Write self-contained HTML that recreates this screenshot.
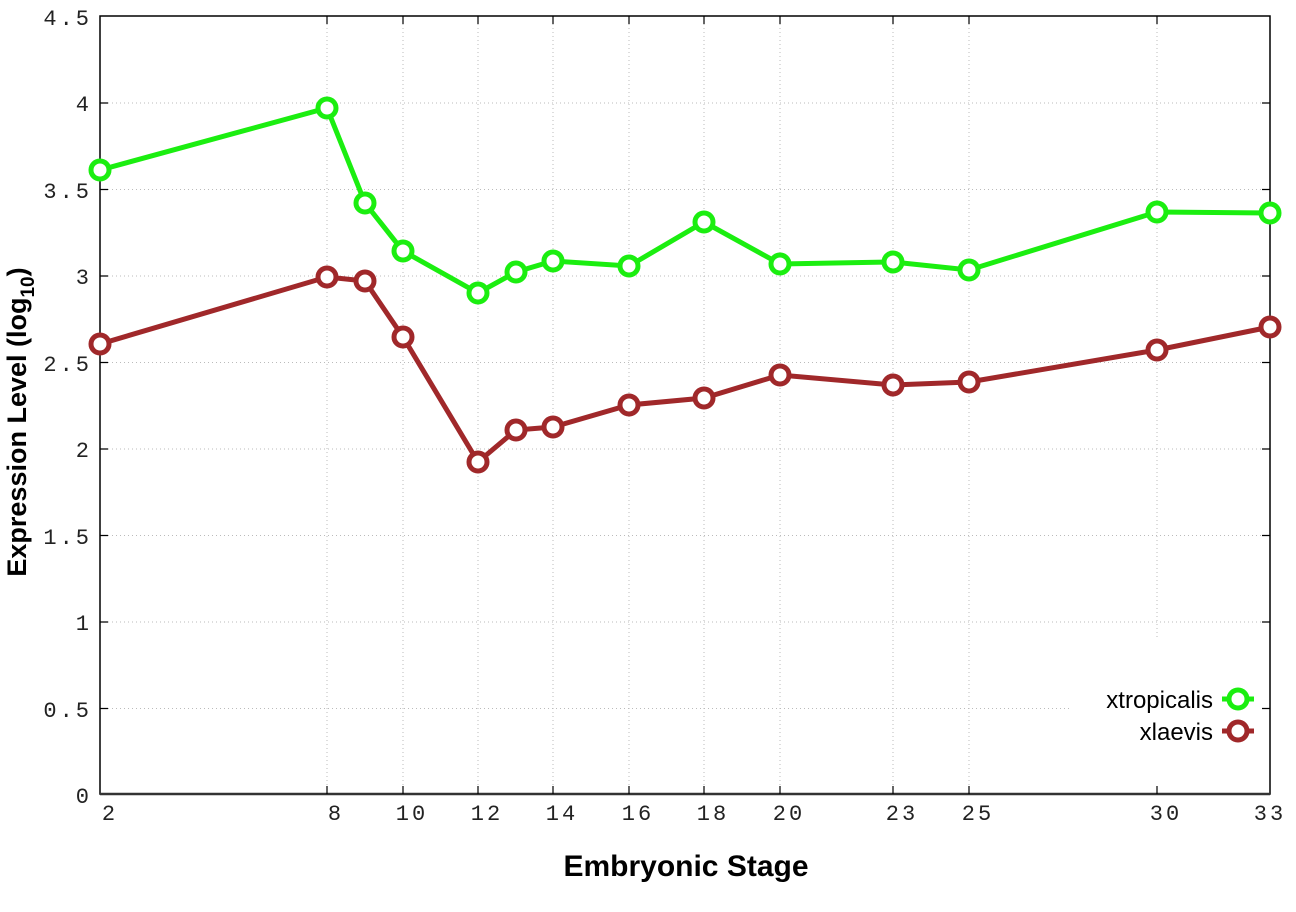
<!DOCTYPE html>
<html><head><style>body{margin:0;background:#fff}</style></head><body>
<svg width="1296" height="907" xmlns="http://www.w3.org/2000/svg" font-family="Liberation Mono, monospace">
<rect width="1296" height="907" fill="#fff"/>
<g stroke="#bbb" stroke-dasharray="1,3" stroke-width="1">
<line x1="100" x2="1270" y1="103" y2="103"/><line x1="100" x2="1270" y1="189.5" y2="189.5"/>
<line x1="100" x2="1270" y1="276" y2="276"/><line x1="100" x2="1270" y1="362.5" y2="362.5"/>
<line x1="100" x2="1270" y1="449" y2="449"/><line x1="100" x2="1270" y1="535.5" y2="535.5"/>
<line x1="100" x2="1270" y1="622" y2="622"/><line x1="100" x2="1070" y1="708.5" y2="708.5"/>
<line x1="327" x2="327" y1="16" y2="794"/><line x1="403" x2="403" y1="16" y2="794"/>
<line x1="478" x2="478" y1="16" y2="794"/><line x1="553" x2="553" y1="16" y2="794"/>
<line x1="629" x2="629" y1="16" y2="794"/><line x1="704" x2="704" y1="16" y2="794"/>
<line x1="780" x2="780" y1="16" y2="794"/><line x1="893" x2="893" y1="16" y2="794"/>
<line x1="969" x2="969" y1="16" y2="794"/><line x1="1157" x2="1157" y1="16" y2="640"/>
</g>
<rect x="100" y="16" width="1170" height="778" fill="none" stroke="#000" stroke-width="1.5"/>
<line x1="100" x2="1270" y1="794" y2="794" stroke="#333" stroke-width="2.5"/>
<g stroke="#000" stroke-width="1.2">
<path d="M100 103h8M100 189.5h8M100 276h8M100 362.5h8M100 449h8M100 535.5h8M100 622h8M100 708.5h8M1270 103h-8M1270 189.5h-8M1270 276h-8M1270 362.5h-8M1270 449h-8M1270 535.5h-8M1270 622h-8M1270 708.5h-8"/>
<path d="M327 794v-8M403 794v-8M478 794v-8M553 794v-8M629 794v-8M704 794v-8M780 794v-8M893 794v-8M969 794v-8M1157 794v-8M327 16v8M403 16v8M478 16v8M553 16v8M629 16v8M704 16v8M780 16v8M893 16v8M969 16v8M1157 16v8"/>
</g>
<g font-size="22" letter-spacing="3" text-anchor="end" fill="#222">
<text x="92" y="25">4.5</text><text x="92" y="111">4</text><text x="92" y="198">3.5</text>
<text x="92" y="284">3</text><text x="92" y="371">2.5</text><text x="92" y="457">2</text>
<text x="92" y="544">1.5</text><text x="92" y="630">1</text><text x="92" y="717">0.5</text><text x="92" y="803">0</text>
</g>
<g font-size="22" letter-spacing="3" text-anchor="middle" fill="#222">
<text x="110" y="820">2</text><text x="336" y="820">8</text><text x="412" y="820">10</text>
<text x="487" y="820">12</text><text x="562" y="820">14</text><text x="638" y="820">16</text>
<text x="713" y="820">18</text><text x="789" y="820">20</text><text x="902" y="820">23</text>
<text x="978" y="820">25</text><text x="1166" y="820">30</text><text x="1270" y="820">33</text>
</g>
<text x="686" y="876" text-anchor="middle" font-family="Liberation Sans, sans-serif" font-weight="bold" font-size="30">Embryonic Stage</text>
<text transform="translate(26,422) rotate(-90)" text-anchor="middle" font-family="Liberation Sans, sans-serif" font-weight="bold" font-size="27">Expression Level (log<tspan font-size="19" dy="8">10</tspan><tspan dy="-8">)</tspan></text>
<g fill="#fff" stroke-width="5">
<polyline fill="none" stroke="#1bee10" points="100,170 327,108 365,203 403,251 478,293 516,272 553,261 629,266 704,222 780,264 893,262 969,270 1157,212 1270,213"/>
<g stroke="#1bee10">
<circle cx="100" cy="170" r="9"/><circle cx="327" cy="108" r="9"/><circle cx="365" cy="203" r="9"/><circle cx="403" cy="251" r="9"/><circle cx="478" cy="293" r="9"/><circle cx="516" cy="272" r="9"/><circle cx="553" cy="261" r="9"/><circle cx="629" cy="266" r="9"/><circle cx="704" cy="222" r="9"/><circle cx="780" cy="264" r="9"/><circle cx="893" cy="262" r="9"/><circle cx="969" cy="270" r="9"/><circle cx="1157" cy="212" r="9"/><circle cx="1270" cy="213" r="9"/>
</g>
<polyline fill="none" stroke="#a0282a" points="100,344 327,277 365,281 403,337 478,462 516,430 553,427 629,405 704,398 780,375 893,385 969,382 1157,350 1270,327"/>
<g stroke="#a0282a">
<circle cx="100" cy="344" r="9"/><circle cx="327" cy="277" r="9"/><circle cx="365" cy="281" r="9"/><circle cx="403" cy="337" r="9"/><circle cx="478" cy="462" r="9"/><circle cx="516" cy="430" r="9"/><circle cx="553" cy="427" r="9"/><circle cx="629" cy="405" r="9"/><circle cx="704" cy="398" r="9"/><circle cx="780" cy="375" r="9"/><circle cx="893" cy="385" r="9"/><circle cx="969" cy="382" r="9"/><circle cx="1157" cy="350" r="9"/><circle cx="1270" cy="327" r="9"/>
</g>
<line x1="1222" x2="1254" y1="699" y2="699" stroke="#1bee10"/><circle cx="1238" cy="699" r="9" stroke="#1bee10"/>
<line x1="1222" x2="1254" y1="731" y2="731" stroke="#a0282a"/><circle cx="1238" cy="731" r="9" stroke="#a0282a"/>
</g>
<g font-family="Liberation Sans, sans-serif" font-size="24" text-anchor="end" fill="#000">
<text x="1213" y="708">xtropicalis</text><text x="1213" y="740">xlaevis</text>
</g>
</svg>
</body></html>
